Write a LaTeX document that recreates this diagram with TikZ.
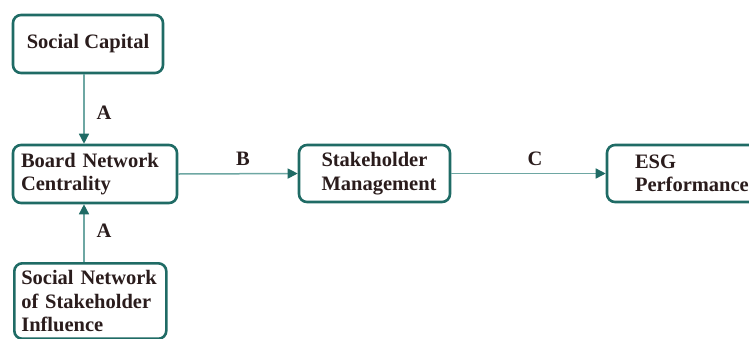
\documentclass[tikz,border=0pt]{standalone}
\usepackage{fontspec}
\setmainfont{Liberation Serif}
\usetikzlibrary{arrows.meta}
\definecolor{boxteal}{HTML}{1F6B65}
\definecolor{lineteal}{HTML}{6EA7A3}
\definecolor{inkdark}{HTML}{2A1C1C}
\tikzset{
  every node/.style={text=inkdark, font=\fontsize{20.5}{23.5}\selectfont\bfseries},
  framebox/.style={draw=boxteal, line width=2.6pt, rounded corners=8pt, fill=white},
  conn/.style={draw=lineteal, line width=1.5pt,
    -{Triangle[length=10pt,width=10pt,color=boxteal]}},
  tag/.style={inner sep=0pt}
}
\begin{document}
\begin{tikzpicture}[x=1pt,y=-1pt]
\useasboundingbox (0,0) rectangle (749,338);
\clip (0,0) rectangle (749,338);

% factor boxes
\node[framebox, minimum width=150pt, minimum height=58pt] (sc) at (88,44) {Social Capital};
\node[framebox, minimum width=164pt, minimum height=58pt, text width=148pt, inner xsep=8pt, align=left] (bnc) at (95,174) {Board Network\\Centrality};
\node[framebox, minimum height=57pt, text width=128pt, inner xsep=11.5pt, align=left] (sm) at (374.5,173.5) {\hspace*{11pt}\mbox{Stakeholder}\\\hspace*{11pt}\mbox{Management}};
\node[framebox, minimum height=57pt, text width=130pt, inner xsep=28pt, align=left] (esg) at (700,173.5) {ESG\\Performance};
\node[framebox, anchor=north west, text width=138pt, inner xsep=7pt, inner ysep=7pt, align=left] (sn) at (13,262) {Social Network\\of Stakeholder\\Influence};

% paths
\draw[conn] ([xshift=-4pt]sc.south) -- ([xshift=-4pt]sc.south |- bnc.north);
\draw[conn] (sn.north -| 84,0) -- (bnc.south -| 84,0);
\draw[conn] (bnc.east) -- (sm.west);
\draw[conn] (sm.east) -- (sm.east -| esg.west);

% path labels
\node[tag] (la1) at (104,113) {A};
\node[tag] (la2) at (104,231) {A};
\node[tag] (lb) at (243,159) {B};
\node[tag] (lc) at (535,159) {C};
\end{tikzpicture}
\end{document}
